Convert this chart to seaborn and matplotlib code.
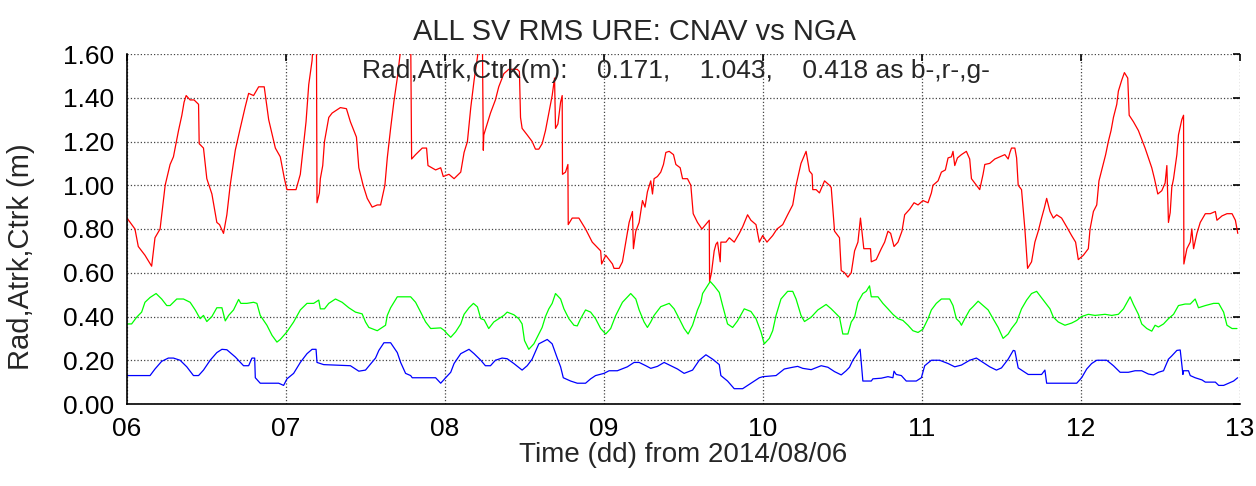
import numpy as np
import pandas as pd
import matplotlib
matplotlib.use("Agg")
import matplotlib.pyplot as plt
import seaborn as sns

# valeurs (temps en jours depuis le 2014/08/00)
atrk_t = [6.0, 6.05, 6.071, 6.113, 6.155, 6.176, 6.208, 6.24, 6.271, 6.292, 6.324, 6.345, 6.359, 6.372,
          6.397, 6.422, 6.45, 6.454, 6.481, 6.502, 6.534, 6.565, 6.582, 6.607, 6.628, 6.649, 6.681, 6.712,
          6.744, 6.765, 6.796, 6.828, 6.863, 6.891, 6.933, 6.964, 6.99, 7.006, 7.063, 7.09, 7.111, 7.126,
          7.143, 7.164, 7.179, 7.191, 7.195, 7.21, 7.216, 7.231, 7.242, 7.269, 7.29, 7.342, 7.38, 7.405,
          7.443, 7.458, 7.485, 7.511, 7.542, 7.574, 7.595, 7.622, 7.637, 7.658, 7.679, 7.70, 7.721, 7.752,
          7.784, 7.79, 7.815, 7.857, 7.884, 7.893, 7.941, 7.973, 7.989, 8.025, 8.057, 8.099, 8.12, 8.141,
          8.162, 8.183, 8.204, 8.22, 8.235, 8.241, 8.244, 8.265, 8.286, 8.317, 8.338, 8.37, 8.401, 8.454,
          8.468, 8.475, 8.485, 8.517, 8.548, 8.569, 8.59, 8.611, 8.632, 8.653, 8.674, 8.689, 8.695, 8.71,
          8.727, 8.737, 8.739, 8.758, 8.773, 8.775, 8.80, 8.842, 8.884, 8.926, 8.979, 8.985, 9.011, 9.053,
          9.063, 9.095, 9.116, 9.137, 9.158, 9.179, 9.185, 9.20, 9.221, 9.242, 9.258, 9.273, 9.294, 9.305,
          9.315, 9.336, 9.357, 9.374, 9.389, 9.41, 9.437, 9.452, 9.479, 9.494, 9.525, 9.546, 9.561, 9.588,
          9.616, 9.662, 9.664, 9.676, 9.693, 9.704, 9.714, 9.731, 9.735, 9.767, 9.788, 9.819, 9.851, 9.872,
          9.903, 9.924, 9.956, 9.977, 9.998, 10.025, 10.061, 10.088, 10.124, 10.155, 10.187, 10.208,
          10.239, 10.271, 10.292, 10.309, 10.313, 10.334, 10.355, 10.387, 10.418, 10.429, 10.45, 10.481,
          10.492, 10.513, 10.534, 10.555, 10.576, 10.597, 10.613, 10.634, 10.676, 10.681, 10.712, 10.744,
          10.765, 10.786, 10.803, 10.824, 10.849, 10.874, 10.891, 10.922, 10.95, 10.975, 11.006, 11.038,
          11.059, 11.069, 11.101, 11.122, 11.147, 11.164, 11.185, 11.195, 11.206, 11.223, 11.248, 11.279,
          11.30, 11.311, 11.342, 11.363, 11.384, 11.395, 11.426, 11.458, 11.489, 11.521, 11.542, 11.553,
          11.563, 11.584, 11.595, 11.605, 11.626, 11.647, 11.664, 11.689, 11.71, 11.731, 11.752, 11.769,
          11.784, 11.805, 11.826, 11.847, 11.878, 11.91, 11.941, 11.966, 11.983, 12.015, 12.046, 12.057,
          12.078, 12.099, 12.113, 12.134, 12.155, 12.172, 12.189, 12.204, 12.225, 12.235, 12.256, 12.273,
          12.294, 12.303, 12.33, 12.361, 12.382, 12.403, 12.424, 12.445, 12.462, 12.483, 12.508, 12.529,
          12.54, 12.55, 12.561, 12.571, 12.582, 12.603, 12.613, 12.634, 12.645, 12.647, 12.666, 12.687,
          12.697, 12.708, 12.729, 12.75, 12.782, 12.813, 12.845, 12.855, 12.887, 12.918, 12.95, 12.971,
          12.986]
atrk_v = [0.85, 0.80, 0.72, 0.68, 0.63, 0.76, 0.80, 1.00, 1.095, 1.13, 1.25, 1.32, 1.38, 1.41,
          1.39, 1.39, 1.37, 1.19, 1.17, 1.03, 0.96, 0.83, 0.82, 0.78, 0.865, 1.0, 1.16, 1.26,
          1.36, 1.42, 1.41, 1.45, 1.45, 1.30, 1.17, 1.13, 1.03, 0.98, 0.98, 1.05, 1.19, 1.29,
          1.46, 1.57, 1.75, 1.75, 0.92, 0.965, 1.03, 1.09, 1.20, 1.31, 1.33, 1.355, 1.35, 1.29,
          1.22, 1.08, 1.0, 0.94, 0.90, 0.91, 0.91, 1.0, 1.125, 1.26, 1.385, 1.49, 1.62, 1.70,
          1.70, 1.12, 1.14, 1.17, 1.17, 1.09, 1.07, 1.08, 1.04, 1.05, 1.03, 1.06, 1.15, 1.20,
          1.355, 1.48, 1.585, 1.68, 1.68, 1.16, 1.23, 1.28, 1.33, 1.39, 1.45, 1.51, 1.53, 1.53,
          1.52, 1.31, 1.26, 1.23, 1.20, 1.165, 1.165, 1.19, 1.25, 1.33, 1.41, 1.49, 1.26, 1.28,
          1.38, 1.41, 1.05, 1.06, 1.095, 0.82, 0.85, 0.85, 0.80, 0.74, 0.70, 0.64, 0.68, 0.64,
          0.62, 0.62, 0.65, 0.74, 0.83, 0.88, 0.71, 0.79, 0.83, 0.93, 0.90, 0.97, 1.02, 0.96,
          1.03, 1.04, 1.06, 1.095, 1.15, 1.155, 1.14, 1.095, 1.08, 1.03, 1.03, 1.0, 0.87, 0.83,
          0.80, 0.84, 0.56, 0.60, 0.70, 0.73, 0.74, 0.65, 0.74, 0.74, 0.76, 0.74, 0.78, 0.81,
          0.865, 0.84, 0.82, 0.74, 0.77, 0.74, 0.77, 0.80, 0.82, 0.865, 0.91, 1.0,
          1.10, 1.155, 1.065, 1.05, 0.98, 0.98, 0.965, 1.02, 1.0, 0.99, 0.79, 0.76,
          0.61, 0.60, 0.58, 0.60, 0.70, 0.74, 0.85, 0.71, 0.71, 0.65, 0.66, 0.71,
          0.74, 0.79, 0.78, 0.72, 0.74, 0.79, 0.865, 0.89, 0.92, 0.91, 0.93, 0.92,
          0.965, 1.0, 1.02, 1.06, 1.07, 1.125, 1.13, 1.155, 1.09, 1.125, 1.14, 1.155,
          1.12, 1.03, 1.0, 0.98, 1.05, 1.095, 1.10, 1.12, 1.13, 1.14, 1.12, 1.15,
          1.17, 1.17, 1.125, 1.0, 0.98, 0.80, 0.62, 0.65, 0.74, 0.79, 0.85, 0.895,
          0.94, 0.88, 0.85, 0.865, 0.85, 0.81, 0.77, 0.74, 0.66, 0.68, 0.71, 0.80,
          0.88, 0.91, 1.02, 1.08, 1.14, 1.20, 1.25, 1.31, 1.37, 1.43, 1.48, 1.515,
          1.49, 1.32, 1.29, 1.25, 1.21, 1.17, 1.125, 1.08, 1.03, 0.96, 0.975, 1.01,
          1.09, 0.83, 0.875, 0.99, 1.03, 1.14, 1.23, 1.30, 1.32, 0.64, 0.71, 0.74,
          0.80, 0.71, 0.78, 0.83, 0.87, 0.87, 0.88, 0.84, 0.86, 0.87, 0.87, 0.84,
          0.78]

ctrk_t = [6.0, 6.029, 6.061, 6.092, 6.113, 6.145, 6.183, 6.218, 6.25, 6.271, 6.313, 6.355, 6.397, 6.429,
          6.46, 6.481, 6.502, 6.534, 6.565, 6.597, 6.618, 6.639, 6.67, 6.702, 6.716, 6.754, 6.796, 6.817,
          6.838, 6.88, 6.912, 6.943, 6.964, 7.006, 7.048, 7.09, 7.132, 7.174, 7.206, 7.216, 7.242, 7.269,
          7.311, 7.353, 7.395, 7.437, 7.479, 7.5, 7.521, 7.574, 7.605, 7.626, 7.637, 7.658, 7.70, 7.784,
          7.815, 7.847, 7.878, 7.91, 7.973, 7.994, 8.015, 8.036, 8.067, 8.099, 8.12, 8.151, 8.179, 8.204,
          8.225, 8.246, 8.275, 8.307, 8.338, 8.37, 8.391, 8.433, 8.464, 8.485, 8.50, 8.527, 8.559, 8.59,
          8.611, 8.632, 8.653, 8.674, 8.695, 8.727, 8.748, 8.779, 8.811, 8.832, 8.853, 8.884, 8.916, 8.947,
          8.979, 9.011, 9.042, 9.074, 9.116, 9.168, 9.20, 9.221, 9.252, 9.273, 9.294, 9.315, 9.357, 9.41,
          9.441, 9.473, 9.504, 9.529, 9.557, 9.588, 9.609, 9.62, 9.651, 9.668, 9.693, 9.725, 9.746, 9.777,
          9.809, 9.84, 9.882, 9.924, 9.956, 9.987, 10.008, 10.04, 10.061, 10.082, 10.113, 10.155, 10.187,
          10.208, 10.239, 10.261, 10.303, 10.345, 10.397, 10.429, 10.481, 10.502, 10.534, 10.555, 10.576,
          10.597, 10.628, 10.649, 10.67, 10.681, 10.723, 10.754, 10.786, 10.817, 10.849, 10.88, 10.912,
          10.943, 10.975, 11.006, 11.038, 11.059, 11.09, 11.122, 11.174, 11.195, 11.216, 11.237, 11.248,
          11.269, 11.30, 11.321, 11.353, 11.384, 11.416, 11.447, 11.479, 11.51, 11.542, 11.563, 11.595,
          11.626, 11.658, 11.689, 11.721, 11.742, 11.773, 11.805, 11.826, 11.857, 11.899, 11.941, 11.973,
          12.004, 12.046, 12.088, 12.151, 12.193, 12.235, 12.267, 12.309, 12.33, 12.361, 12.382, 12.414,
          12.445, 12.466, 12.487, 12.519, 12.55, 12.582, 12.613, 12.655, 12.687, 12.718, 12.739, 12.782,
          12.834, 12.866, 12.897, 12.918, 12.95, 12.981]
ctrk_v = [0.366, 0.366, 0.397, 0.42, 0.465, 0.487, 0.505, 0.48, 0.45, 0.45, 0.48, 0.48, 0.465, 0.43,
          0.39, 0.405, 0.377, 0.40, 0.44, 0.44, 0.38, 0.405, 0.43, 0.478, 0.46, 0.46, 0.465, 0.46,
          0.405, 0.36, 0.314, 0.283, 0.295, 0.33, 0.375, 0.43, 0.46, 0.46, 0.475, 0.435, 0.435, 0.46,
          0.48, 0.465, 0.44, 0.42, 0.412, 0.375, 0.35, 0.335, 0.35, 0.36, 0.405, 0.44, 0.49, 0.49,
          0.465, 0.42, 0.375, 0.345, 0.348, 0.337, 0.32, 0.305, 0.33, 0.366, 0.41, 0.44, 0.46, 0.444,
          0.39, 0.385, 0.345, 0.375, 0.39, 0.405, 0.42, 0.408, 0.39, 0.366, 0.29, 0.25, 0.275, 0.32,
          0.35, 0.40, 0.435, 0.46, 0.505, 0.48, 0.435, 0.39, 0.36, 0.357, 0.39, 0.43, 0.42, 0.39,
          0.345, 0.32, 0.345, 0.405, 0.465, 0.505, 0.48, 0.43, 0.375, 0.35, 0.375, 0.405, 0.445, 0.46,
          0.435, 0.39, 0.345, 0.32, 0.36, 0.43, 0.465, 0.505, 0.54, 0.56, 0.54, 0.51, 0.45, 0.366,
          0.35, 0.38, 0.435, 0.423, 0.39, 0.33, 0.275, 0.30, 0.335, 0.405, 0.48, 0.515, 0.515,
          0.48, 0.405, 0.377, 0.397, 0.43, 0.455, 0.435, 0.397, 0.32, 0.32, 0.375, 0.397,
          0.465, 0.505, 0.515, 0.54, 0.49, 0.49, 0.46, 0.435, 0.41, 0.39, 0.382, 0.36,
          0.335, 0.327, 0.342, 0.39, 0.43, 0.46, 0.48, 0.48, 0.45, 0.39, 0.375, 0.36,
          0.39, 0.43, 0.445, 0.47, 0.45, 0.43, 0.39, 0.35, 0.30, 0.32, 0.345, 0.375,
          0.435, 0.475, 0.505, 0.515, 0.495, 0.465, 0.435, 0.397, 0.375, 0.36, 0.37, 0.382,
          0.40, 0.41, 0.405, 0.41, 0.405, 0.41, 0.435, 0.49, 0.455, 0.41, 0.366, 0.345,
          0.333, 0.36, 0.352, 0.366, 0.39, 0.41, 0.45, 0.457, 0.457, 0.48, 0.44, 0.45,
          0.46, 0.46, 0.42, 0.36, 0.345, 0.345]

rad_t = [6.0, 6.145, 6.176, 6.218, 6.26, 6.292, 6.334, 6.376, 6.418, 6.45, 6.481, 6.523, 6.565, 6.597,
         6.628, 6.681, 6.733, 6.765, 6.786, 6.803, 6.807, 6.838, 6.954, 6.985, 7.006, 7.048, 7.09, 7.132,
         7.164, 7.189, 7.195, 7.237, 7.405, 7.458, 7.5, 7.563, 7.584, 7.616, 7.658, 7.70, 7.721, 7.752,
         7.784, 7.794, 7.941, 7.973, 8.004, 8.036, 8.057, 8.099, 8.151, 8.183, 8.225, 8.254, 8.286, 8.317,
         8.359, 8.391, 8.433, 8.485, 8.517, 8.548, 8.59, 8.643, 8.674, 8.706, 8.727, 8.744, 8.79, 8.832,
         8.884, 8.916, 8.947, 9.0, 9.032, 9.084, 9.147, 9.189, 9.221, 9.263, 9.294, 9.336, 9.378, 9.42,
         9.462, 9.504, 9.557, 9.599, 9.641, 9.683, 9.725, 9.735, 9.777, 9.819, 9.872, 9.903, 9.935, 9.977,
         10.0, 10.082, 10.134, 10.187, 10.218, 10.25, 10.303, 10.366, 10.408, 10.45, 10.492, 10.523,
         10.544, 10.565, 10.597, 10.611, 10.628, 10.681, 10.691, 10.744, 10.786, 10.817, 10.824, 10.838,
         10.87, 10.901, 10.964, 10.996, 11.017, 11.059, 11.111, 11.164, 11.206, 11.248, 11.30, 11.342,
         11.384, 11.426, 11.468, 11.50, 11.542, 11.574, 11.584, 11.605, 11.626, 11.668, 11.752, 11.773,
         11.784, 11.973, 12.004, 12.036, 12.067, 12.099, 12.162, 12.204, 12.246, 12.298, 12.34, 12.382,
         12.424, 12.456, 12.487, 12.519, 12.55, 12.571, 12.603, 12.624, 12.641, 12.645, 12.676, 12.687,
         12.718, 12.761, 12.782, 12.845, 12.866, 12.897, 12.929, 12.96, 12.985]
rad_v = [0.13, 0.13, 0.16, 0.195, 0.21, 0.21, 0.20, 0.17, 0.13, 0.13, 0.155, 0.20, 0.235, 0.25,
         0.248, 0.215, 0.175, 0.175, 0.21, 0.21, 0.12, 0.095, 0.095, 0.085, 0.115, 0.14, 0.19, 0.23,
         0.25, 0.25, 0.19, 0.18, 0.175, 0.15, 0.155, 0.21, 0.245, 0.28, 0.28, 0.235, 0.19, 0.14,
         0.13, 0.12, 0.12, 0.095, 0.12, 0.145, 0.185, 0.23, 0.25, 0.23, 0.20, 0.175, 0.175, 0.20,
         0.21, 0.207, 0.185, 0.155, 0.175, 0.205, 0.275, 0.295, 0.275, 0.21, 0.17, 0.12, 0.105, 0.095,
         0.095, 0.115, 0.13, 0.14, 0.152, 0.152, 0.17, 0.19, 0.19, 0.175, 0.163, 0.172, 0.19, 0.175,
         0.16, 0.14, 0.155, 0.20, 0.225, 0.205, 0.18, 0.13, 0.105, 0.07, 0.07, 0.085, 0.10, 0.12,
         0.125, 0.13, 0.16, 0.168, 0.172, 0.163, 0.157, 0.175, 0.168, 0.148, 0.133, 0.152,
         0.168, 0.20, 0.235, 0.25, 0.105, 0.105, 0.115, 0.118, 0.125, 0.12, 0.15, 0.135,
         0.13, 0.105, 0.105, 0.12, 0.175, 0.20, 0.20, 0.185, 0.17, 0.178, 0.20, 0.21,
         0.19, 0.17, 0.155, 0.165, 0.205, 0.245, 0.243, 0.165, 0.155, 0.135, 0.135, 0.155,
         0.095, 0.095, 0.12, 0.16, 0.185, 0.20, 0.20, 0.175, 0.145, 0.145, 0.152, 0.152,
         0.137, 0.133, 0.145, 0.152, 0.205, 0.22, 0.245, 0.247, 0.135, 0.152, 0.152, 0.13,
         0.12, 0.11, 0.10, 0.10, 0.085, 0.085, 0.095, 0.105, 0.12]

jours = [6, 7, 8, 9, 10, 11, 12, 13]
jours_labels = ["06", "07", "08", "09", "10", "11", "12", "13"]
y_ticks = [0.0, 0.2, 0.4, 0.6, 0.8, 1.0, 1.2, 1.4, 1.6]

sns.set_style("white")
plt.rcParams['font.family'] = ['Liberation Sans', 'DejaVu Sans']

fig = plt.figure(figsize=(12.56, 4.86), dpi=100)
ax = fig.add_axes([127/1256, 1 - 404/486, 1113/1256, 350/486])

sns.lineplot(x=atrk_t, y=atrk_v, estimator=None, sort=False, color="#ff0000", lw=0.9, ax=ax)
sns.lineplot(x=ctrk_t, y=ctrk_v, estimator=None, sort=False, color="#00ff00", lw=0.9, ax=ax)
sns.lineplot(x=rad_t, y=rad_v, estimator=None, sort=False, color="#0000ff", lw=0.9, ax=ax)

ax.set_xlim(6, 13)
ax.set_ylim(0, 1.6)
ax.set_xticks(jours)
ax.set_xticklabels(jours_labels)
ax.set_yticks(y_ticks)
ax.set_yticklabels([f"{v:.2f}" for v in y_ticks])
ax.tick_params(direction="in", length=5, width=1.2, top=True, right=True,
               labelsize=19, colors="black")
ax.tick_params(axis="x", pad=9)
ax.tick_params(axis="y", pad=9)
ax.grid(True, color="#444444", linestyle=":", linewidth=0.9)

for cote in ["top", "right"]:
    ax.spines[cote].set_visible(False)
for cote in ["left", "bottom"]:
    ax.spines[cote].set_color("black")
    ax.spines[cote].set_linewidth(1.2)

ax.set_xlabel("Time (dd) from 2014/08/06", fontsize=20, labelpad=1)
ax.set_ylabel("Rad,Atrk,Ctrk (m)", fontsize=21)
ax.yaxis.set_label_coords(-0.083, 0.42)
ax.set_title("ALL SV RMS URE: CNAV vs NGA", fontsize=21, x=0.456, pad=10)
ax.text(7.478, 1.49, "Rad,Atrk,Ctrk(m):    0.171,    1.043,    0.418 as b-,r-,g-",
        fontsize=19, ha="left", va="baseline")

plt.savefig("out.png", dpi=100)
